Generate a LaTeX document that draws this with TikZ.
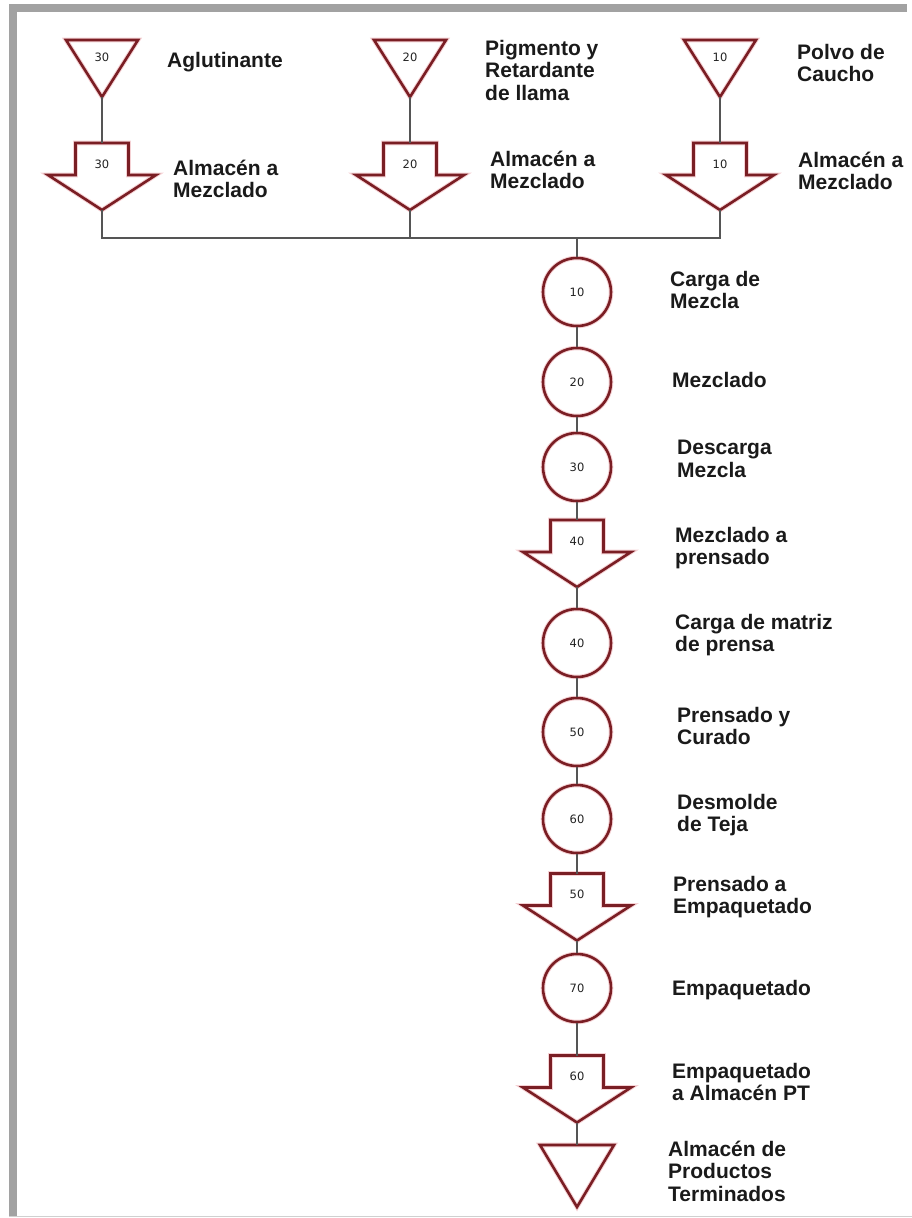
\documentclass[tikz,border=0pt]{standalone}
\usepackage{fontspec}
\setmainfont{Liberation Sans}
\newfontfamily\numfont{DejaVu Sans}
\usetikzlibrary{calc}

\definecolor{shapered}{HTML}{7A1E24}
\definecolor{halo}{HTML}{E89AA0}
\definecolor{wire}{HTML}{555555}
\definecolor{framegray}{HTML}{A2A2A2}
\definecolor{framelight}{HTML}{D0D0D0}
\definecolor{ink}{HTML}{1A1A1A}
\definecolor{numink}{HTML}{222222}

\tikzset{
  x=1pt, y=-1pt,
  outline/.style={draw=shapered, line width=2.6pt, line join=miter,
    preaction={draw=halo, line width=4.6pt, opacity=0.45}},
  numtext/.style={font=\numfont\fontsize{11.5}{13}\selectfont, text=numink, inner sep=0pt},
  opstep/.style={circle, outline, minimum size=68pt, inner sep=0pt, numtext},
  movebox/.style={rectangle, minimum width=108pt, minimum height=67pt, inner sep=0pt, outer sep=0pt},
  storebox/.style={rectangle, minimum width=72pt, minimum height=57pt, inner sep=0pt, outer sep=0pt},
  endbox/.style={rectangle, minimum width=74pt, minimum height=62pt, inner sep=0pt, outer sep=0pt},
  movenum/.style={numtext, yshift=12.5pt},
  storenum/.style={numtext, yshift=11.5pt},
  tag/.style={anchor=west, align=left, inner sep=0pt, text=ink,
    font=\bfseries\fontsize{21}{22.5}\selectfont},
  link/.style={draw=wire, line width=2pt},
}

% fat downward arrow: transport step
\newcommand\movestep[4]{%
  \node[movebox, label={[movenum]center:#4}] (#1) at (#2,#3) {};
  \draw[outline, shift={(#1.center)}]
    (-26.5,-33.5) -- (26.5,-33.5) -- (26.5,-1.5) -- (54,-1.5) -- (0,33.5)
    -- (-54,-1.5) -- (-26.5,-1.5) -- cycle;
}
% inverted triangle: storage step
\newcommand\storestep[4]{%
  \node[storebox, label={[storenum]center:#4}] (#1) at (#2,#3) {};
  \draw[outline, shift={(#1.center)}]
    (-36,-28.5) -- (36,-28.5) -- (0,28.5) -- cycle;
}

\begin{document}
\begin{tikzpicture}
\useasboundingbox (0,0) rectangle (912,1218);

% page frame
\fill[framegray] (9,4) rectangle (907,12);
\fill[framegray] (9,4) rectangle (17,1216);
\draw[framelight, line width=1pt] (9,1216.5) -- (912,1216.5);

% raw material storage
\storestep{s1}{102}{68.5}{30}
\storestep{s2}{410}{68.5}{20}
\storestep{s3}{720}{68.5}{10}

% transport to mixing
\movestep{a1}{102}{176.5}{30}
\movestep{a2}{410}{176.5}{20}
\movestep{a3}{720}{176.5}{10}

% main line
\node[opstep] (c1) at (577,292) {10};
\node[opstep] (c2) at (577,382) {20};
\node[opstep] (c3) at (577,467) {30};
\movestep{m1}{577}{553.5}{40}
\node[opstep] (c4) at (577,643) {40};
\node[opstep] (c5) at (577,732) {50};
\node[opstep] (c6) at (577,819) {60};
\movestep{m2}{577}{907}{50}
\node[opstep] (c7) at (577,988) {70};
\movestep{m3}{577}{1089}{60}
\node[endbox] (pt) at (577,1176) {};
\draw[outline, shift={(pt.center)}] (-37,-31) -- (37,-31) -- (0,31) -- cycle;

% connectors
\coordinate (hub) at (577,238);
\draw[link] (s1.south) -- (a1.north);
\draw[link] (s2.south) -- (a2.north);
\draw[link] (s3.south) -- (a3.north);
\draw[link] (a1.south) |- (hub);
\draw[link] (a3.south) |- (hub);
\draw[link] (a2.south) -- (a2.south |- hub);
\draw[link] (hub) -- (c1.north);
\draw[link] (c1.south) -- (c2.north);
\draw[link] (c2.south) -- (c3.north);
\draw[link] (c3.south) -- (m1.north);
\draw[link] (m1.south) -- (c4.north);
\draw[link] (c4.south) -- (c5.north);
\draw[link] (c5.south) -- (c6.north);
\draw[link] (c6.south) -- (m2.north);
\draw[link] (m2.south) -- (c7.north);
\draw[link] (c7.south) -- (m3.north);
\draw[link] (m3.south) -- (pt.north);

% descriptions
\node[tag] (ls1) at (167,62) {Aglutinante};
\node[tag] (ls2) at (485,70) {Pigmento y\\Retardante\\de llama};
\node[tag] (ls3) at (797,63) {Polvo de\\Caucho};
\node[tag] (la1) at (173,179) {Almacén a\\Mezclado};
\node[tag] (la2) at (490,170) {Almacén a\\Mezclado};
\node[tag] (la3) at (798,171) {Almacén a\\Mezclado};
\node[tag] (lc1) at (670,290) {Carga de\\Mezcla};
\node[tag] (lc2) at (672,380) {Mezclado};
\node[tag] (lc3) at (677,459) {Descarga\\Mezcla};
\node[tag] (lm1) at (675,548) {Mezclado a\\prensado};
\node[tag] (lc4) at (675,635) {Carga de matriz\\de prensa};
\node[tag] (lc5) at (677,726) {Prensado y\\Curado};
\node[tag] (lc6) at (677,815) {Desmolde\\de Teja};
\node[tag] (lm2) at (673,897) {Prensado a\\Empaquetado};
\node[tag] (lc7) at (672,990) {Empaquetado};
\node[tag] (lm3) at (672,1082) {Empaquetado\\a Almacén PT};
\node[tag] (lpt) at (668,1171) {Almacén de\\Productos\\Terminados};
\end{tikzpicture}
\end{document}
